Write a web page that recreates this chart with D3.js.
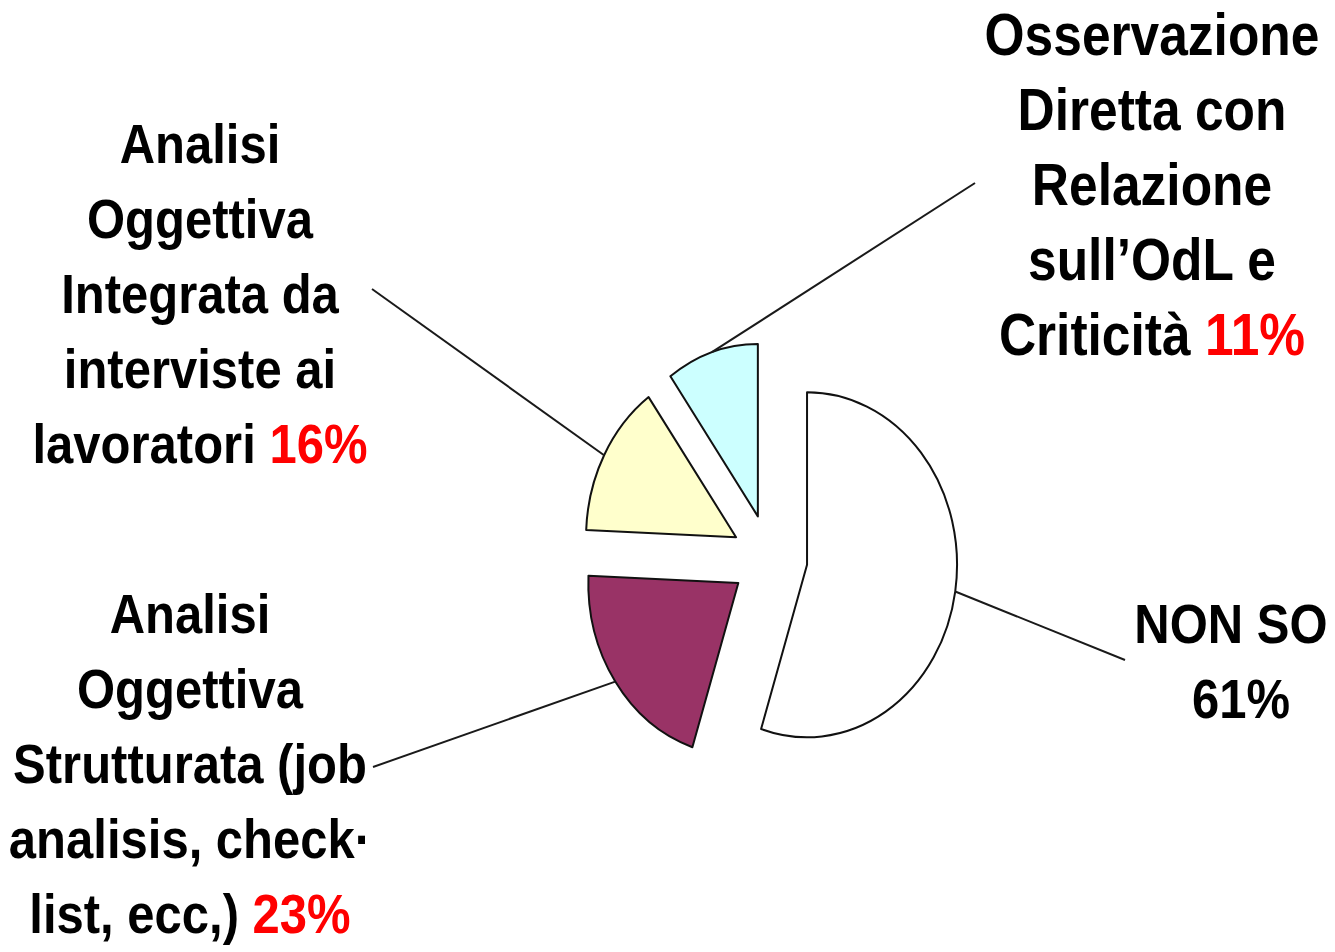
<!DOCTYPE html>
<html lang="it">
<head>
    <meta charset="UTF-8">
    <title>Pie - metodi di analisi</title>
    <script src="https://d3js.org/d3.v7.min.js"></script>
    <style>
        body { margin: 0; background: #fff; }
        svg { display: block; }
        text {
            font-family: 'Liberation Sans', Arial, sans-serif;
            font-weight: bold;
        }
    </style>
</head>
<body>
<svg width="1335" height="952"></svg>
<script>
    // data
    const categories = [
        ["NON SO"],
        ["Analisi", "Oggettiva", "Strutturata (job", "analisis, check·", "list, ecc,)"],
        ["Analisi", "Oggettiva", "Integrata da", "interviste ai", "lavoratori"],
        ["Osservazione", "Diretta con", "Relazione", "sull\u2019OdL e", "Criticità"]
    ];
    const values = [61, 23, 16, 11];
    const pctLabels = ["61%", "23%", "16%", "11%"];
    const sliceColors = ["#FFFFFF", "#993366", "#FFFFCC", "#CCFFFF"];

    // layout (screen coords, picture is stretched vertically)
    const sy = 1.15;
    const center = [769.5, 558];
    const radius = 150;
    const explode = 38;
    const lineStep = 75;
    const labelLayout = [
        { x: 1231, y: 643, size: 49, pctOwnLine: true, pctDx: 10, anchor: [1125, 660] },
        { x: 190, y: 633, size: 49, pctOwnLine: false, anchor: [373, 767] },
        { x: 200, y: 163, size: 49, pctOwnLine: false, anchor: [372, 289] },
        { x: 1152, y: 55, size: 51.5, pctOwnLine: false, anchor: [975, 183] }
    ];

    const svg = d3.select("svg");
    const root = svg.append("g").attr("transform", `scale(1,${sy})`);

    const pie = d3.pie().sort(null).value(d => d);
    const arcs = pie(values);
    const arc = d3.arc().innerRadius(0).outerRadius(radius);

    const pieG = root.append("g")
        .attr("transform", `translate(${center[0]},${center[1] / sy})`);

    // offset of each exploded slice
    function offset(d, r) {
        const a = (d.startAngle + d.endAngle) / 2;
        return [Math.sin(a) * r, -Math.cos(a) * r];
    }

    // leader lines (drawn first, under slices)
    arcs.forEach((d, i) => {
        const o = offset(d, explode + radius);
        const px = center[0] + o[0];
        const py = center[1] / sy + o[1];
        const lay = labelLayout[i];
        root.append("path")
            .attr("d", d3.line()([[lay.anchor[0], lay.anchor[1] / sy], [px, py]]))
            .attr("fill", "none")
            .attr("stroke", "#1a1a1a")
            .attr("stroke-width", 2)
            .attr("vector-effect", "non-scaling-stroke");
    });

    pieG.selectAll("path.slice")
        .data(arcs)
        .enter()
        .append("path")
        .attr("class", "slice")
        .attr("transform", d => `translate(${offset(d, explode)})`)
        .attr("d", arc)
        .attr("fill", (d, i) => sliceColors[i])
        .attr("stroke", "#111")
        .attr("stroke-width", 2)
        .attr("stroke-linejoin", "round")
        .attr("vector-effect", "non-scaling-stroke");

    // labels
    categories.forEach((lines, i) => {
        const lay = labelLayout[i];
        const t = root.append("text")
            .attr("text-anchor", "middle")
            .attr("font-size", lay.size)
            .attr("fill", "#000");
        lines.forEach((ln, j) => {
            const ts = t.append("tspan")
                .attr("x", lay.x)
                .attr("y", (lay.y + j * lineStep) / sy)
                .text(ln);
            if (j === lines.length - 1 && !lay.pctOwnLine) {
                ts.append("tspan").attr("fill", "#FF0000").text(" " + pctLabels[i]);
            }
        });
        if (lay.pctOwnLine) {
            t.append("tspan")
                .attr("x", lay.x + lay.pctDx)
                .attr("y", (lay.y + lines.length * lineStep) / sy)
                .text(pctLabels[i]);
        }
    });
</script>
</body>
</html>
